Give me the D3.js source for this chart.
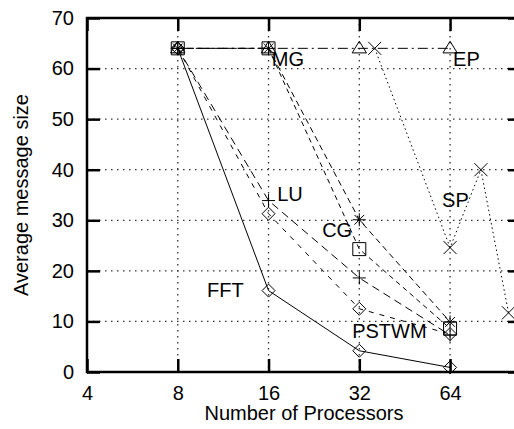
<!DOCTYPE html>
<html>
<head>
<meta charset="utf-8">
<script src="https://cdn.jsdelivr.net/npm/d3@7"></script>
<style>
  body { margin: 0; background: #fff; }
  text { font-family: "Liberation Sans", Arial, sans-serif; font-size: 20px; fill: #000; }
</style>
</head>
<body>
<div id="chart"></div>
<script>
// data
const xTicks = [4, 8, 16, 32, 64];
const yTicks = [0, 10, 20, 30, 40, 50, 60, 70];

const fftX = [8, 16, 32, 64];
const fftY = [64, 16.1, 4.2, 0.9];
const luX = [8, 16, 32, 64];
const luY = [64, 33.9, 18.6, 7.3];
const pstwmX = [8, 16, 32, 64];
const pstwmY = [64, 31.3, 12.5, 7.5];
const cgX = [8, 16, 32, 64];
const cgY = [64, 64, 24.3, 8.6];
const mgX = [8, 16, 32, 64];
const mgY = [64, 64, 30.1, 9.9];
const epX = [8, 16, 32, 64];
const epY = [64, 64, 64, 64];
const spX = [36, 64, 81, 100];
const spY = [64, 24.6, 40, 11.7];

// label names and where they sit (data units)
const labelNames = ["MG", "EP", "LU", "CG", "SP", "FFT", "PSTWM"];
const labelX = [16.4, 65.5, 17.1, 24.1, 60.2, 10.0, 30.3];
const labelY = [60.5, 60.5, 33.8, 26.7, 32.6, 14.8, 6.7];

const width = 514;
const height = 429;
const plotLeft = 87, plotRight = 521, plotTop = 18, plotBottom = 372;

const svg = d3.select("#chart").append("svg")
  .attr("width", width)
  .attr("height", height);

svg.append("rect").attr("width", width).attr("height", height).attr("fill", "#fff");

const xScale = d3.scaleLog().base(2).domain([4, 110]).range([plotLeft, plotRight]);
const yScale = d3.scaleLinear().domain([0, 70]).range([plotBottom, plotTop]);

// grid
svg.append("g")
  .selectAll("line")
  .data(yTicks.filter(d => d > 0 && d < 70))
  .enter().append("line")
  .attr("x1", plotLeft).attr("x2", plotRight)
  .attr("y1", d => yScale(d)).attr("y2", d => yScale(d))
  .attr("stroke", "#333").attr("stroke-width", 1.3)
  .attr("stroke-dasharray", "1.5,4.5");

svg.append("g")
  .selectAll("line")
  .data(xTicks.filter(d => d > 4))
  .enter().append("line")
  .attr("x1", d => xScale(d)).attr("x2", d => xScale(d))
  .attr("y1", plotTop).attr("y2", plotBottom)
  .attr("stroke", "#333").attr("stroke-width", 1.3)
  .attr("stroke-dasharray", "1.5,4.5");

// series
const series = [
  { x: fftX, y: fftY, dash: null, mark: "diamond" },
  { x: luX, y: luY, dash: "8,5", mark: "plus" },
  { x: pstwmX, y: pstwmY, dash: "5,6", mark: "diamond" },
  { x: cgX, y: cgY, dash: "5,4", mark: "square" },
  { x: mgX, y: mgY, dash: "6,4", mark: "star" },
  { x: epX, y: epY, dash: "10,4,2,4", mark: "triangle" },
  { x: spX, y: spY, dash: "1.5,3", mark: "cross" }
];

const line = d3.line()
  .x(d => xScale(d[0]))
  .y(d => yScale(d[1]));

function markPath(type, r) {
  if (type == "diamond") return `M0,${-r}L${r},0L0,${r}L${-r},0Z`;
  if (type == "plus") return `M${-r},0H${r}M0,${-r}V${r}`;
  if (type == "square") return `M${-r},${-r}H${r}V${r}H${-r}Z`;
  if (type == "cross") return `M${-r},${-r}L${r},${r}M${-r},${r}L${r},${-r}`;
  if (type == "star") return `M${-r},0H${r}M0,${-r}V${r}M${-r * 0.75},${-r * 0.75}L${r * 0.75},${r * 0.75}M${-r * 0.75},${r * 0.75}L${r * 0.75},${-r * 0.75}`;
  if (type == "triangle") return `M0,${-r * 1.1}L${r * 1.1},${r * 0.7}L${-r * 1.1},${r * 0.7}Z`;
  return "";
}

series.forEach(function (s) {
  const pts = s.x.map((v, i) => [v, s.y[i]]);
  svg.append("path")
    .datum(pts)
    .attr("d", line)
    .attr("fill", "none")
    .attr("stroke", "#000")
    .attr("stroke-width", 1)
    .attr("stroke-dasharray", s.dash);

  svg.append("g")
    .selectAll("path")
    .data(pts)
    .enter().append("path")
    .attr("transform", d => "translate(" + xScale(d[0]) + "," + yScale(d[1]) + ")")
    .attr("d", markPath(s.mark, 6.5))
    .attr("fill", "none")
    .attr("stroke", "#000")
    .attr("stroke-width", 1);
});

// axes with inward ticks
const axisB = d3.axisBottom(xScale).tickValues(xTicks).tickFormat(d3.format("d"))
  .tickSizeInner(-13).tickSizeOuter(0).tickPadding(14);
const axisT = d3.axisTop(xScale).tickValues(xTicks).tickFormat("")
  .tickSizeInner(-13).tickSizeOuter(0);
const axisL = d3.axisLeft(yScale).tickValues(yTicks)
  .tickSizeInner(-13).tickSizeOuter(0).tickPadding(13);
const axisR = d3.axisRight(yScale).tickValues(yTicks).tickFormat("")
  .tickSizeInner(-13).tickSizeOuter(0);

function styleAxis(g) {
  g.select(".domain").remove();
  g.selectAll(".tick line").attr("stroke", "#000").attr("stroke-width", 2.5);
  g.selectAll(".tick text")
    .attr("font-family", "Liberation Sans, Arial, sans-serif")
    .attr("font-size", 20).attr("fill", "#000");
}

svg.append("g").attr("transform", "translate(0," + plotBottom + ")").call(axisB).call(styleAxis);
svg.append("g").attr("transform", "translate(0," + plotTop + ")").call(axisT).call(styleAxis);
svg.append("g").attr("transform", "translate(" + plotLeft + ",0)").call(axisL).call(styleAxis);
svg.append("g").attr("transform", "translate(" + plotRight + ",0)").call(axisR).call(styleAxis);

// frame
svg.append("rect")
  .attr("x", plotLeft).attr("y", plotTop)
  .attr("width", plotRight - plotLeft).attr("height", plotBottom - plotTop)
  .attr("fill", "none").attr("stroke", "#000").attr("stroke-width", 2.5);

// series labels
svg.append("g")
  .selectAll("text")
  .data(labelNames)
  .enter().append("text")
  .attr("x", (d, i) => xScale(labelX[i]))
  .attr("y", (d, i) => yScale(labelY[i]))
  .text(d => d);

// axis titles
svg.append("text")
  .attr("x", 304).attr("y", 420)
  .attr("text-anchor", "middle")
  .text("Number of Processors");

svg.append("text")
  .attr("transform", "translate(28,195) rotate(-90)")
  .attr("text-anchor", "middle")
  .text("Average message size");
</script>
</body>
</html>
